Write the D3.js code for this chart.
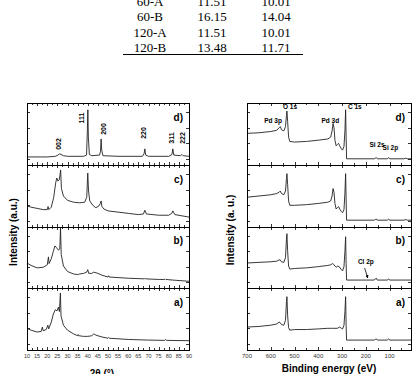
<!DOCTYPE html>
<html><head><meta charset="utf-8">
<script src="https://cdn.jsdelivr.net/npm/d3@7"></script>
<style>body{margin:0;background:#fff}svg{display:block}</style>
</head><body>
<svg id="c" width="414" height="374"></svg>
<script>
// ---------- Data ----------
const tableRows = [
  ["60-A","11.51","10.01"],
  ["60-B","16.15","14.04"],
  ["120-A","11.51","10.01"],
  ["120-B","13.48","11.71"]
];
const panelLabels = ["d)","c)","b)","a)"];
const xrdTicks = [10,15,20,25,30,35,40,45,50,55,60,65,70,75,80,85,90];
const xpsTicks = [700,600,500,400,300,200,100];

const xrdD = [[10,13],[20,13],[24,14],[25.3,16],[26,18],[26.8,17],[28,15],[30,14],[38,14],[39.4,16],[39.8,55],[40.05,89],[40.3,45],[40.8,17],[42,15],[45.8,16],[46.3,22],[46.6,42],[46.9,24],[47.5,15],[55,14],[67,14],[67.8,18],[68.2,26],[68.6,16],[70,14],[80,14],[81.6,17],[82,26],[82.5,16],[85.8,15],[86.5,17],[87.1,15],[90,14]];
const xrdC = [[10,34],[12,32],[15,30],[18,28],[20,28],[20.4,33],[20.8,28],[22,32],[23.2,48],[24.2,72],[24.7,79],[25.3,74],[25.9,76],[26.3,84],[26.6,92],[27,62],[28,50],[30,43],[33,40],[36,39],[38.5,40],[39.5,48],[40,87],[40.4,58],[41,42],[42.5,35],[44,31],[45.5,34],[46.2,38],[46.6,42],[47,33],[48,29],[50,26],[55,24],[60,22],[65,20],[67.5,21],[68.2,27],[69,21],[75,19],[80,19],[81.5,22],[82,26],[83,20],[86.5,18],[90,16]];
const xrdB = [[10,41],[12,37],[15,33],[18,34],[20,38],[20.6,51],[20.9,40],[22,48],[23,60],[23.8,69],[24.6,66],[25.5,62],[26.2,64],[26.55,98],[26.9,55],[28,36],[30,27],[33,23],[35,22],[36,23],[38,24],[39.5,26],[40,30],[40.5,24],[42,24],[43,26],[45,24],[47,21],[50,18],[50.3,20],[50.6,18],[60,16],[68,15],[68.3,16],[68.6,15],[75,14],[78,14],[78.3,15],[78.6,14],[82,13],[90,11]];
const xrdA = [[10,35],[12,32],[15,29],[17,30],[17.6,37],[18,31],[19.5,33],[20.3,40],[20.7,34],[22,45],[23,58],[24,65],[24.8,63],[25.5,69],[26,62],[26.5,92],[26.8,55],[28,40],[30,32],[33,26],[35,23],[35.3,25],[35.6,23],[38,22],[40,22],[42,23],[43,26],[44,24],[47,21],[50,19],[50.3,20],[50.6,19],[60,17],[70,16],[78,15.5],[78.5,17],[79,15.5],[90,15]];

const xpsD = [[700,51],[650,52],[600,54],[575,56],[565,60],[560,62],[555,57],[545,55],[538,62],[534,80],[532,87],[529,70],[525,45],[520,38],[500,37],[450,38],[400,40],[360,42],[348,45],[342,55],[338,67],[334,60],[330,40],[325,31],[320,33],[315,35],[310,31],[303,26],[298,24],[292,30],[288,55],[285,89],[283,45],[281,10],[250,10],[200,10],[165,10],[160,11],[156,12],[152,10],[110,10],[104,12],[100,10],[40,10],[32,11],[25,10],[10,10]];
const xpsC = [[700,48],[650,50],[600,52],[575,54],[565,56],[560,58],[555,54],[545,52],[538,58],[534,78],[532,86],[529,68],[525,42],[520,35],[500,35],[450,36],[400,38],[360,40],[348,42],[342,50],[338,62],[334,56],[330,38],[325,29],[320,31],[315,33],[310,29],[303,25],[298,23],[292,28],[288,55],[285,86],[283,45],[281,11],[250,11],[200,11],[165,11],[160,12],[156,13],[152,11],[110,11],[104,13],[100,11],[40,11],[32,12],[25,11],[10,11]];
const xpsB = [[700,41],[650,42],[600,43],[575,44],[565,46],[560,46],[555,43],[545,42],[538,50],[534,80],[532,89],[529,60],[525,36],[520,31],[500,32],[450,33],[400,35],[360,37],[348,38],[340,40],[336,39],[330,36],[325,34],[318,36],[312,35],[305,31],[298,28],[292,35],[288,60],[285,84],[283,40],[281,13],[250,13],[200,13],[165,13],[160,15],[156,16],[152,13],[110,13],[104,15],[100,13],[40,13],[10,13]];
const xpsA = [[700,37],[650,38],[600,40],[575,42],[565,45],[560,44],[555,41],[545,40],[538,48],[534,78],[532,86],[529,55],[525,36],[520,32],[500,33],[450,33],[400,34],[360,35],[340,35],[320,35],[310,37],[303,35],[298,34],[292,40],[288,62],[285,86],[283,40],[281,16],[250,16],[200,16],[165,16],[160,17],[156,18],[152,16],[110,16],[104,18],[100,16],[40,16],[10,16]];

// label, 2θ of peak, label centre y, horizontal shift from peak
const xrdPeaks = [["002",25.8,144,0],["111",40,118,-6],["200",46.6,129,2],["220",68.2,133,-1],["311",82,138,-1],["222",87,138,0]];
// ---------- Drawing ----------
const svg = d3.select("#c");
const FONT = "Liberation Sans, Arial, sans-serif";

// Table
const tcols = [150, 212, 276];
const tbase = [6, 21, 37, 52];
tableRows.forEach((r,i)=>{
  r.forEach((v,j)=>{
    svg.append("text").attr("x",tcols[j]).attr("y",tbase[i]).attr("text-anchor","middle")
      .attr("font-family","Liberation Serif, Times New Roman, serif").attr("font-size",13).text(v);
  });
});
svg.append("line").attr("x1",123).attr("x2",303).attr("y1",54.5).attr("y2",54.5).attr("stroke","#000").attr("stroke-width",1.2);

const panelTops = [103,165,227,288,350];

function drawChart(opt){
  const x = d3.scaleLinear().domain(opt.xdom).range([opt.x0, opt.x1]);
  const g = svg.append("g");
  opt.series.forEach((data,i)=>{
    const y = d3.scaleLinear().domain([0,100]).range([panelTops[i+1], panelTops[i]]);
    [10,35,60,85].forEach(t=>{
      g.append("line").attr("x1",opt.x0).attr("x2",opt.x0+3).attr("y1",Math.round(y(t))+0.5).attr("y2",Math.round(y(t))+0.5).attr("stroke","#000").attr("stroke-width",0.8);
      g.append("line").attr("x1",opt.x1).attr("x2",opt.x1-3).attr("y1",Math.round(y(t))+0.5).attr("y2",Math.round(y(t))+0.5).attr("stroke","#000").attr("stroke-width",0.8);
    });
    opt.minor.forEach(t=>{
      const len = opt.major(t) ? 3 : 2;
      const px = Math.round(x(t))+0.5;
      g.append("line").attr("x1",px).attr("x2",px).attr("y1",panelTops[i]).attr("y2",panelTops[i]+len).attr("stroke","#000").attr("stroke-width",0.8);
      g.append("line").attr("x1",px).attr("x2",px).attr("y1",panelTops[i+1]).attr("y2",panelTops[i+1]-len).attr("stroke","#000").attr("stroke-width",0.8);
    });
    const line = d3.line().x(d=>x(d[0])).y(d=>y(d[1]));
    g.append("path").datum(data).attr("d",line).attr("fill","none").attr("stroke","#222").attr("stroke-width",0.9).attr("stroke-linejoin","round");
    g.append("text").attr("x",opt.x1-6).attr("y",y(78)+4).attr("text-anchor","end").attr("font-family",FONT)
      .attr("font-weight","bold").attr("font-size",10).text(panelLabels[i]);
    g.append("rect").attr("x",opt.x0+0.5).attr("y",panelTops[i]+0.5).attr("width",opt.x1-opt.x0).attr("height",panelTops[i+1]-panelTops[i])
      .attr("fill","none").attr("stroke","#000").attr("stroke-width",1);
  });
  opt.ticks.forEach(t=>{
    g.append("text").attr("x",x(t)).attr("y",358).attr("text-anchor","middle").attr("font-family",FONT)
      .attr("font-size",opt.tickFont).attr("fill","#333").text(t);
  });
  g.append("text").attr("x",opt.xt).attr("y",opt.xty).attr("text-anchor","middle").attr("font-family",FONT)
    .attr("font-weight","bold").attr("font-size",10).text(opt.xtitle);
  g.append("text").attr("transform",`translate(${opt.yx},${opt.yy}) rotate(-90)`).attr("text-anchor","middle")
    .attr("font-family",FONT).attr("font-weight","bold").attr("font-size",10).text(opt.ytitle);
  return x;
}

const minorXrd = d3.range(10,90.01,2.5);
const xX = drawChart({xdom:[10,90],x0:27,x1:189,series:[xrdD,xrdC,xrdB,xrdA],
  minor:minorXrd, major:t=>t%5===0, ticks:xrdTicks, tickFont:5.5,
  xt:102, xty:377, xtitle:"2θ (°)", yx:17, yy:232, ytitle:"Intensity (a.u.)"});

const minorXps = d3.range(700,9,-50);
const xP = drawChart({xdom:[700,10],x0:247,x1:411,series:[xpsD,xpsC,xpsB,xpsA],
  minor:minorXps, major:t=>t%100===0, ticks:xpsTicks, tickFont:6,
  xt:329, xty:372, xtitle:"Binding energy (eV)", yx:234, yy:230, ytitle:"Intensity (a. u.)"});

xrdPeaks.forEach(p=>{
  svg.append("text").attr("transform",`translate(${xX(p[1])+2.5+p[3]},${p[2]}) rotate(-90)`).attr("text-anchor","middle")
    .attr("font-family",FONT).attr("font-weight","bold").attr("font-size",7).text(p[0]);
});

const xpsLabels = [["O 1s",532,109,"start",-4],["C 1s",284,109,"start",2],["Pd 3p",561,123,"middle",-7],["Pd 3d",337,123,"middle",-3],["Si 2s",153,147,"middle",0],["Si 2p",101,150,"middle",1]];
xpsLabels.forEach(l=>{
  svg.append("text").attr("x",xP(l[1])+l[4]).attr("y",l[2]).attr("text-anchor",l[3])
    .attr("font-family",FONT).attr("font-weight","bold").attr("font-size",6.5).text(l[0]);
});
svg.append("text").attr("x",xP(200)).attr("y",264).attr("text-anchor","middle")
  .attr("font-family",FONT).attr("font-weight","bold").attr("font-size",6.5).text("Cl 2p");
svg.append("defs").append("marker").attr("id","ah").attr("viewBox","0 0 10 10").attr("refX",9).attr("refY",5)
  .attr("markerWidth",4).attr("markerHeight",4).attr("orient","auto")
  .append("path").attr("d","M0,0L10,5L0,10z").attr("fill","#000");
svg.append("line").attr("x1",xP(205)).attr("y1",268).attr("x2",xP(192)).attr("y2",278)
  .attr("stroke","#000").attr("stroke-width",0.8).attr("marker-end","url(#ah)");
</script>
</body></html>
